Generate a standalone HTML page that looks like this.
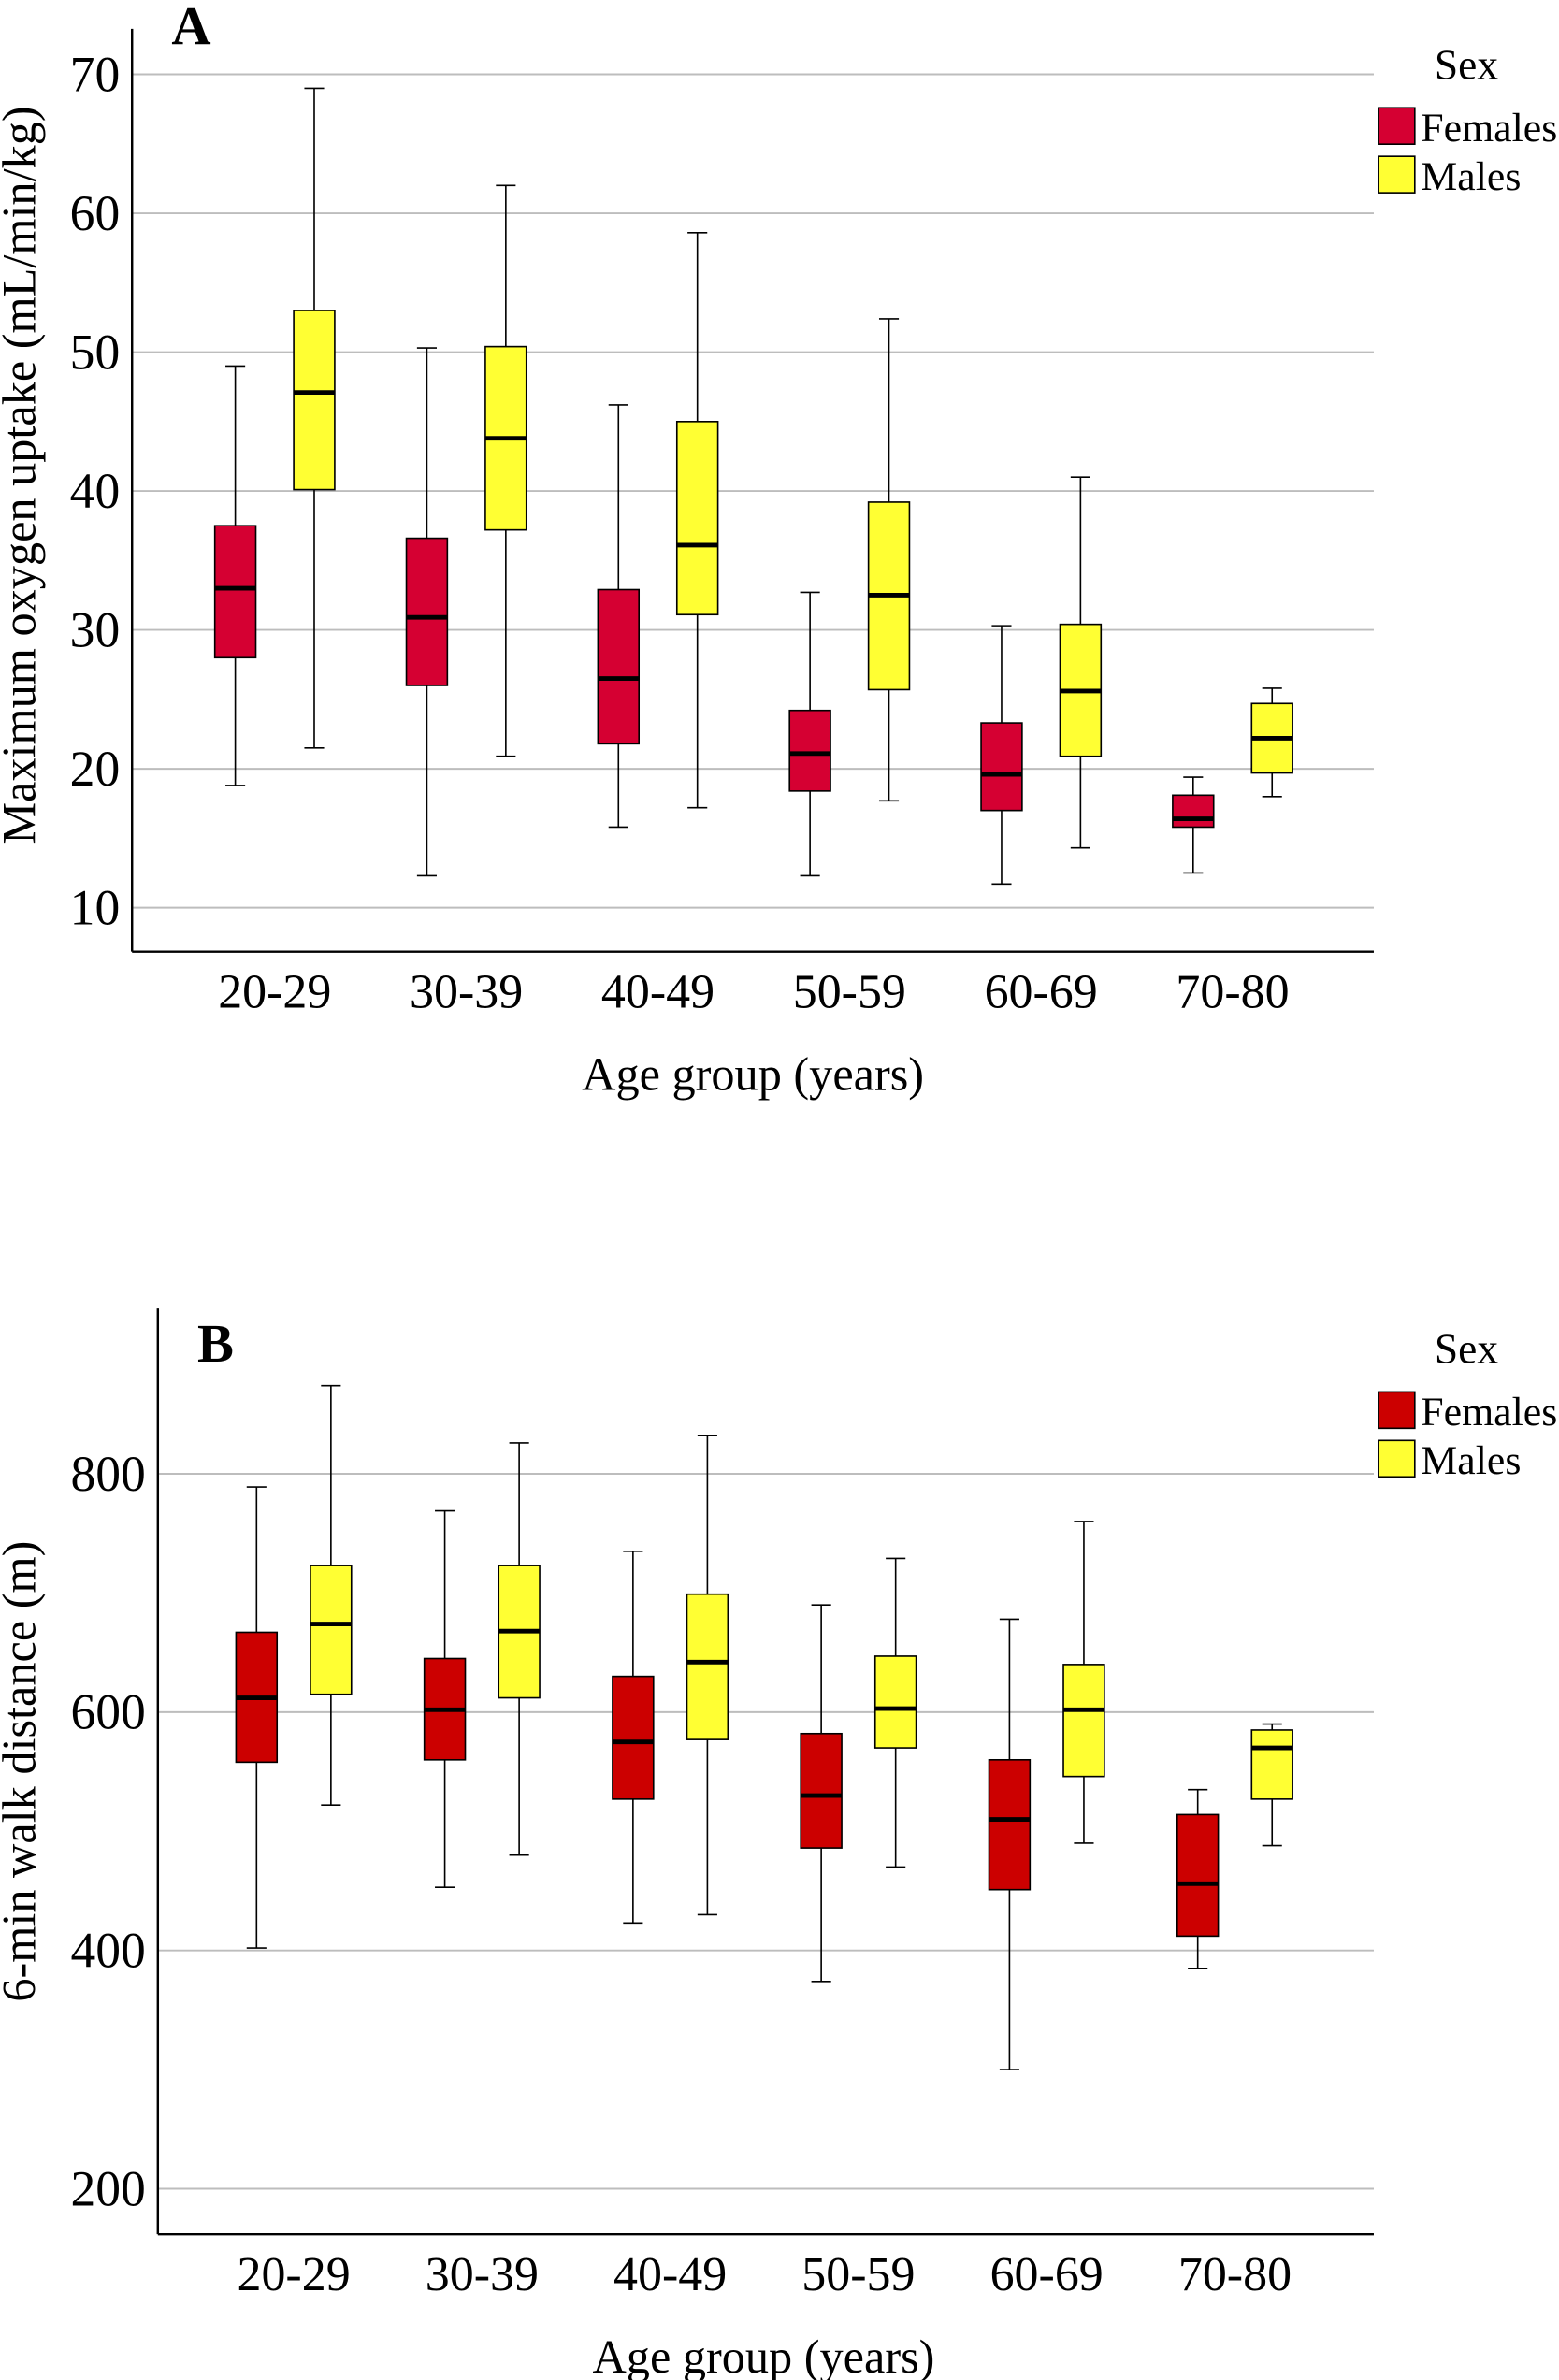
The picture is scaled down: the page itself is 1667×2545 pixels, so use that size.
<!DOCTYPE html>
<html><head><meta charset="utf-8"><style>
html,body{margin:0;padding:0;background:#fff;}
svg{display:block;}
text{font-family:"Liberation Serif",serif;fill:#000;}
</style></head><body>
<svg id="chart" width="1667" height="2545" viewBox="0 0 1027 1568" preserveAspectRatio="none" xmlns="http://www.w3.org/2000/svg">
<g id="panelA"></g>
<g id="panelB"></g>
</svg>
<script>
const categories = ["20-29","30-39","40-49","50-59","60-69","70-80"];
// Panel A: VO2max
const aFemLow = [18.8,12.3,15.8,12.3,11.7,12.5];
const aFemQ1  = [28.0,26.0,21.8,18.4,17.0,15.8];
const aFemMed = [33.0,30.9,26.5,21.1,19.6,16.4];
const aFemQ3  = [37.5,36.6,32.9,24.2,23.3,18.1];
const aFemHigh= [49.0,50.3,46.2,32.7,30.3,19.4];
const aMalLow = [21.5,20.9,17.2,17.7,14.3,18.0];
const aMalQ1  = [40.1,37.2,31.1,25.7,20.9,19.7];
const aMalMed = [47.1,43.8,36.1,32.5,25.6,22.2];
const aMalQ3  = [53.0,50.4,45.0,39.2,30.4,24.7];
const aMalHigh= [69.0,62.0,58.6,52.4,41.0,25.8];
const aTicks = [10,20,30,40,50,60,70];
// Panel B: 6MWD
const bFemLow = [402,453,423,374,300,385];
const bFemQ1  = [558,560,527,486,451,412];
const bFemMed = [612,602,575,530,510,456];
const bFemQ3  = [667,645,630,582,560,514];
const bFemHigh= [789,769,735,690,678,535];
const bMalLow = [522,480,430,470,490,488];
const bMalQ1  = [615,612,577,570,546,527];
const bMalMed = [674,668,642,603,602,570];
const bMalQ3  = [723,723,699,647,640,585];
const bMalHigh= [874,826,832,729,760,590];
const bTicks = [200,400,600,800];

const NS="http://www.w3.org/2000/svg";
function mk(parent,tag,attrs,txt){const e=document.createElementNS(NS,tag);for(const k in attrs)e.setAttribute(k,attrs[k]);if(txt!==undefined)e.textContent=txt;parent.appendChild(e);return e;}

function drawPanel(g,cfg){
  const yScale=v=>cfg.y0+(v-cfg.v0)*(cfg.y1-cfg.y0)/(cfg.v1-cfg.v0);
  const xFem=i=>cfg.fx0+i*cfg.step;
  const xMal=i=>cfg.fx0+i*cfg.step+cfg.off;
  cfg.ticks.forEach(t=>{
    const l=mk(g,'line',{x1:cfg.ax,x2:cfg.right,y1:yScale(t),y2:yScale(t),stroke:'#bdbdbd','stroke-width':1.2});
    
    
    const tx=mk(g,'text',{x:cfg.ax-8,y:yScale(t)+11,'text-anchor':'end','font-size':33},String(t));
    
    
  });
  const ya=mk(g,'line',{x1:cfg.ax,x2:cfg.ax,y1:cfg.top,y2:cfg.bottom,stroke:'#000','stroke-width':1.5});
  
  
  const xa=mk(g,'line',{x1:cfg.ax,x2:cfg.right,y1:cfg.bottom,y2:cfg.bottom,stroke:'#000','stroke-width':1.5});
  
  
  const series=[
    {x:xFem,lo:cfg.fl,q1:cfg.f1,md:cfg.fm,q3:cfg.f3,hi:cfg.fh,col:cfg.fcol,name:'female'},
    {x:xMal,lo:cfg.ml,q1:cfg.m1,md:cfg.mm,q3:cfg.m3,hi:cfg.mh,col:'#ffff33',name:'male'}];
  categories.forEach((c,i)=>{
    series.forEach(s=>{
      const cx=s.x(i),bw=cfg.bw,cw=cfg.cw;
      const bg=mk(g,'g',{});
      
      
      mk(bg,'line',{x1:cx,x2:cx,y1:yScale(s.hi[i]),y2:yScale(s.lo[i]),stroke:'#000','stroke-width':1});
      mk(bg,'line',{x1:cx-cw/2,x2:cx+cw/2,y1:yScale(s.hi[i]),y2:yScale(s.hi[i]),stroke:'#000','stroke-width':1});
      mk(bg,'line',{x1:cx-cw/2,x2:cx+cw/2,y1:yScale(s.lo[i]),y2:yScale(s.lo[i]),stroke:'#000','stroke-width':1});
      mk(bg,'rect',{x:cx-bw/2,y:yScale(s.q3[i]),width:bw,height:yScale(s.q1[i])-yScale(s.q3[i]),fill:s.col,stroke:'#000','stroke-width':1});
      mk(bg,'line',{x1:cx-bw/2,x2:cx+bw/2,y1:yScale(s.md[i]),y2:yScale(s.md[i]),stroke:'#000','stroke-width':3});
    });
    const lb=mk(g,'text',{x:(xFem(i)+xMal(i))/2,y:cfg.bottom+37,'text-anchor':'middle','font-size':32},c);
    
    
  });
  const xt=mk(g,'text',{x:cfg.xtx,y:cfg.bottom+91,'text-anchor':'middle','font-size':31},'Age group (years)');
  
  
  const yt=mk(g,'text',{x:0,y:0,'text-anchor':'middle','font-size':31,transform:'translate('+cfg.ytx+','+cfg.yty+') rotate(-90)'},cfg.ytitle);
  
  
  const pl=mk(g,'text',{x:cfg.lx,y:cfg.ly,'font-size':36,'font-weight':'bold'},cfg.letter);
  
  
  const lg=mk(g,'g',{});
  
  
  mk(lg,'text',{x:966,y:cfg.legY+9,'text-anchor':'middle','font-size':28},'Sex');
  const e1=mk(lg,'g',{});
  
  
  mk(e1,'rect',{x:908,y:cfg.legY+28,width:24,height:24,fill:cfg.fcol,stroke:'#000','stroke-width':1});
  mk(e1,'text',{x:936,y:cfg.legY+50,'font-size':27},'Females');
  const e2=mk(lg,'g',{});
  
  
  mk(e2,'rect',{x:908,y:cfg.legY+60,width:24,height:24,fill:'#ffff33',stroke:'#000','stroke-width':1});
  mk(e2,'text',{x:936,y:cfg.legY+82,'font-size':27},'Males');
}

drawPanel(document.getElementById('panelA'),{
  v0:10,v1:70,y0:598,y1:49,ticks:aTicks,ax:87,right:905,top:19,bottom:627,
  fx0:155,step:126.2,off:52,bw:27,cw:13,fcol:'#d50032',
  fl:aFemLow,f1:aFemQ1,fm:aFemMed,f3:aFemQ3,fh:aFemHigh,
  ml:aMalLow,m1:aMalQ1,mm:aMalMed,m3:aMalQ3,mh:aMalHigh,
  xtx:496,ytx:23,yty:313,ytitle:'Maximum oxygen uptake (mL/min/kg)',
  lx:113,ly:29,letter:'A',legY:43});
drawPanel(document.getElementById('panelB'),{
  v0:200,v1:800,y0:1442,y1:971,ticks:bTicks,ax:104,right:905,top:862,bottom:1472,
  fx0:169,step:124,off:49,bw:27,cw:13,fcol:'#cc0000',
  fl:bFemLow,f1:bFemQ1,fm:bFemMed,f3:bFemQ3,fh:bFemHigh,
  ml:bMalLow,m1:bMalQ1,mm:bMalMed,m3:bMalQ3,mh:bMalHigh,
  xtx:503,ytx:23,yty:1167,ytitle:'6-min walk distance (m)',
  lx:130,ly:897,letter:'B',legY:889});
</script>
</body></html>
